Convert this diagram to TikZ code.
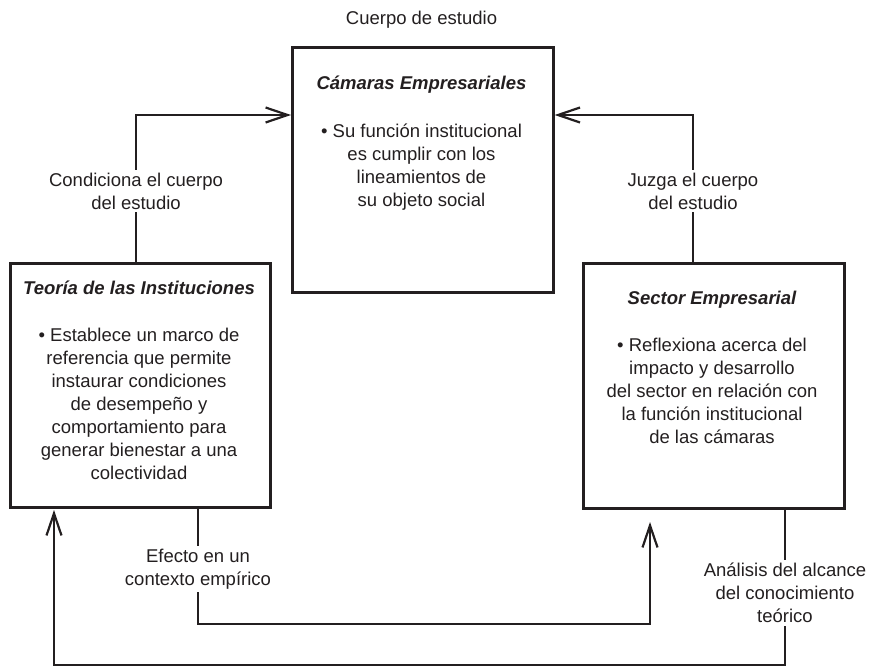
\documentclass[tikz,border=0pt]{standalone}
\usepackage{fontspec}
\setmainfont{Liberation Sans}
\usetikzlibrary{arrows.meta}
\definecolor{ink}{HTML}{231F20}
\tikzset{
  boxnode/.style={draw=ink, line width=2.6pt, rectangle, inner sep=0pt},
  conn/.style={draw=ink, line width=2.2pt},
  arr/.style={conn, -{Straight Barb[length=22pt,width=15pt,line width=2.2pt]}},
  txt/.style={text=ink, align=center, font=\fontsize{18.5}{23}\selectfont, inner sep=0pt},
  ttl/.style={text=ink, font=\fontsize{18.5}{23}\selectfont\bfseries\itshape, inner sep=0pt},
  lbl/.style={txt, fill=white, inner sep=3pt}
}
\begin{document}
\begin{tikzpicture}[x=1pt,y=-1pt]
\useasboundingbox (0,0) rectangle (869,667);
% boxes
\node[boxnode, minimum width=261pt, minimum height=245pt, anchor=north west] (tbox) at (291,46) {};
\node[boxnode, minimum width=260pt, minimum height=244pt, anchor=north west] (lbox) at (9,262) {};
\node[boxnode, minimum width=261pt, minimum height=245pt, anchor=north west] (rbox) at (582,262) {};
% top label
\node[txt] (cuerpo) at (421.5,20) {Cuerpo de estudio};
% top box text
\node[ttl] (ttitle) at (421.5,85) {Cámaras Empresariales};
\node[txt, anchor=north] (ttext) at (421.5,124) {• Su función institucional\\es cumplir con los\\lineamientos de\\su objeto social};
% left box text
\node[ttl] (ltitle) at (139,288) {Teoría de las Instituciones};
\node[txt, anchor=north] (ltext) at (139,328) {• Establece un marco de\\referencia que permite\\instaurar condiciones\\de desempeño y\\comportamiento para\\generar bienestar a una\\colectividad};
% right box text
\node[ttl] (rtitle) at (712,300) {Sector Empresarial};
\node[txt, anchor=north] (rtext) at (712,338) {• Reflexiona acerca del\\impacto y desarrollo\\del sector en relación con\\la función institucional\\de las cámaras};
% connector coordinates
\coordinate (k1) at (136,115);
\coordinate (k2) at (693,115);
\coordinate (k3) at (198,624);
\coordinate (k4) at (650,522);
\coordinate (k5) at (785,665);
\coordinate (k6) at (54,510);
% connectors
\draw[arr] (lbox.north -| k1) |- (tbox.west |- k1);
\draw[arr] (rbox.north -| k2) |- (tbox.east |- k2);
\draw[arr] (lbox.south -| k3) |- (k4 |- k3) -- (k4);
\draw[arr] (rbox.south -| k5) |- (k6 |- k5) -- (k6);
% connector labels
\node[lbl] (l1) at (136,191) {Condiciona el cuerpo\\del estudio};
\node[lbl] (l2) at (693,191) {Juzga el cuerpo\\del estudio};
\node[lbl] (l3) at (198,569) {Efecto en un\\contexto empírico};
\node[lbl] (l4) at (785,593) {Análisis del alcance\\del conocimiento\\teórico};
\end{tikzpicture}
\end{document}
